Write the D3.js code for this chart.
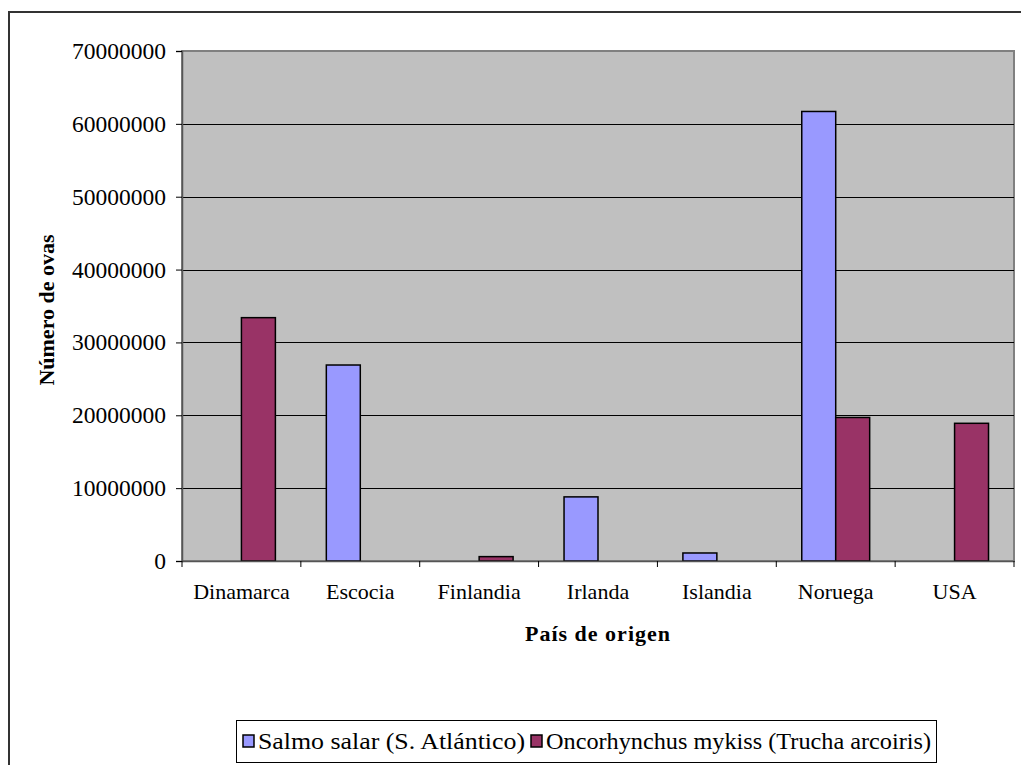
<!DOCTYPE html>
<html>
<head>
<meta charset="utf-8">
<script src="https://cdn.jsdelivr.net/npm/d3@7"></script>
<style>
  html, body { margin: 0; padding: 0; background: #fff; }
  svg { display: block; }
  text { font-family: "Liberation Serif", "Times New Roman", serif; fill: #000; }
</style>
</head>
<body>
<svg id="chart" width="1021" height="765"></svg>
<script>
// Países de origen de las ovas importadas
const categories = ["Dinamarca", "Escocia", "Finlandia", "Irlanda", "Islandia", "Noruega", "USA"];
const seriesNames = ["Salmo salar (S. Atlántico)", "Oncorhynchus mykiss (Trucha arcoiris)"];
const salmoSalar = [0, 26900000, 0, 8800000, 1100000, 61700000, 0];
const truchaArcoiris = [33400000, 0, 600000, 0, 0, 19700000, 18900000];
const yTicks = [0, 10000000, 20000000, 30000000, 40000000, 50000000, 60000000, 70000000];
const colors = ["#9999FF", "#993366"];

const svg = d3.select("#chart");
const serif = "Liberation Serif, Times New Roman, serif";

// Marco exterior del gráfico (los bordes derecho e inferior quedan fuera)
svg.append("path")
  .attr("d", "M9,765 L9,12 L1021,12")
  .attr("fill", "none").attr("stroke", "#333").attr("stroke-width", 2);

const plot = { left: 182, right: 1014, top: 51, bottom: 561 };

const x = d3.scaleBand().domain(categories).range([plot.left, plot.right]).paddingInner(0).paddingOuter(0);
const y = d3.scaleLinear().domain([0, 70000000]).range([plot.bottom, plot.top]);

// Área de trazado
svg.append("rect")
  .attr("x", plot.left).attr("y", plot.top)
  .attr("width", plot.right - plot.left).attr("height", plot.bottom - plot.top)
  .attr("fill", "#C0C0C0").attr("stroke", "#808080").attr("stroke-width", 2);

// Líneas de división
svg.append("g").selectAll("line")
  .data(yTicks.filter(v => v > 0 && v < 70000000))
  .join("line")
  .attr("x1", plot.left).attr("x2", plot.right)
  .attr("y1", d => Math.round(y(d)) + 0.5).attr("y2", d => Math.round(y(d)) + 0.5)
  .attr("stroke", "#000").attr("stroke-width", 1);

// Barras agrupadas
const bw = x.bandwidth() / 3.5;
const series = [salmoSalar, truchaArcoiris];
series.forEach((vals, si) => {
  svg.append("g").selectAll("rect")
    .data(categories.map((c, i) => ({ c, v: vals[i] })).filter(d => d.v > 0))
    .join("rect")
    .attr("x", d => x(d.c) + x.bandwidth() / 2 - bw + si * bw)
    .attr("y", d => y(d.v))
    .attr("width", bw)
    .attr("height", d => y(0) - y(d.v))
    .attr("fill", colors[si])
    .attr("stroke", "#000").attr("stroke-width", 1.5);
});

// Eje Y
const yAxis = svg.append("g").attr("transform", `translate(${plot.left},0)`)
  .call(d3.axisLeft(y).tickValues(yTicks).tickFormat(d3.format("d")).tickSize(6).tickPadding(10));
yAxis.select(".domain").attr("stroke", "#555").attr("stroke-width", 1.5);
yAxis.selectAll(".tick line").attr("stroke", "#000");
yAxis.selectAll(".tick text")
  .attr("font-family", serif)
  .attr("font-size", 23.5).attr("fill", "#000");

// Eje X
const xAxis = svg.append("g").attr("transform", `translate(0,${plot.bottom})`)
  .call(d3.axisBottom(x).tickSize(0).tickPadding(22));
xAxis.select(".domain").attr("stroke", "#555").attr("stroke-width", 1.5);
xAxis.selectAll(".tick text")
  .attr("font-family", serif)
  .attr("font-size", 22).attr("fill", "#000");
// Marcas entre categorías
svg.append("g").selectAll("line")
  .data(categories.map(c => x(c)).concat([plot.right]))
  .join("line")
  .attr("x1", d => d).attr("x2", d => d)
  .attr("y1", plot.bottom).attr("y2", plot.bottom + 6)
  .attr("stroke", "#000");

// Títulos de los ejes
svg.append("text")
  .attr("transform", `translate(54,${(plot.top + plot.bottom) / 2 + 4}) rotate(-90)`)
  .attr("text-anchor", "middle")
  .attr("font-family", serif)
  .attr("font-size", 22).attr("font-weight", "bold")
  .text("Número de ovas");

svg.append("text")
  .attr("x", (plot.left + plot.right) / 2).attr("y", 641)
  .attr("text-anchor", "middle")
  .attr("font-family", serif)
  .attr("font-size", 22).attr("font-weight", "bold")
  .attr("letter-spacing", 1)
  .text("País de origen");

// Leyenda
const legend = svg.append("g");
legend.append("rect")
  .attr("x", 236.5).attr("y", 720.5).attr("width", 700).attr("height", 42)
  .attr("fill", "#fff").attr("stroke", "#000").attr("stroke-width", 1);
const legendItems = [
  { name: seriesNames[0], color: colors[0], sx: 243, tx: 258, len: 267 },
  { name: seriesNames[1], color: colors[1], sx: 531, tx: 546, len: 385 }
];
legendItems.forEach(it => {
  legend.append("rect")
    .attr("x", it.sx).attr("y", 735).attr("width", 11).attr("height", 12)
    .attr("fill", it.color).attr("stroke", "#000").attr("stroke-width", 1.5);
  legend.append("text")
    .attr("x", it.tx).attr("y", 749)
    .attr("font-family", serif)
    .attr("font-size", 24)
    .attr("textLength", it.len).attr("lengthAdjust", "spacingAndGlyphs")
    .text(it.name);
});
</script>
</body>
</html>
